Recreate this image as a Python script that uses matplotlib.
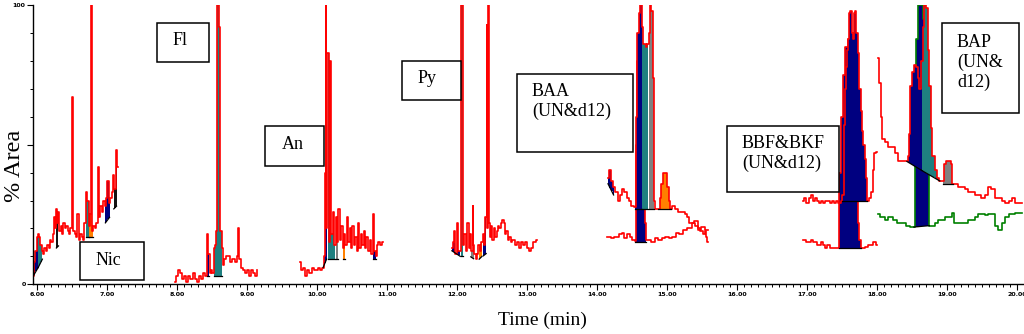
import numpy as np
import matplotlib
matplotlib.use("Agg")
import matplotlib.pyplot as plt
from matplotlib.patches import Rectangle
from matplotlib.ticker import MultipleLocator, FixedLocator, FixedFormatter

# traces: (time in min, % area)
nic = [(5.94, 3), (5.96, 8), (5.98, 12), (6.00, 17), (6.01, 18), (6.03, 17), (6.05, 14), (6.07, 12),
       (6.09, 11), (6.11, 13), (6.13, 12), (6.15, 14), (6.17, 13), (6.19, 16), (6.21, 15), (6.23, 18),
       (6.25, 24), (6.26, 20), (6.27, 27), (6.29, 22), (6.30, 26), (6.32, 19), (6.34, 21), (6.36, 18),
       (6.38, 22), (6.40, 20), (6.42, 21), (6.44, 19), (6.46, 18), (6.48, 20), (6.50, 67), (6.52, 19),
       (6.54, 18), (6.56, 17), (6.58, 25), (6.60, 16), (6.62, 18), (6.64, 17), (6.66, 16), (6.68, 22),
       (6.70, 33), (6.72, 30), (6.74, 21), (6.76, 25), (6.77, 100), (6.79, 19), (6.81, 21), (6.83, 20),
       (6.85, 22), (6.87, 42), (6.89, 24), (6.91, 28), (6.93, 26), (6.95, 30), (6.97, 28), (6.99, 31),
       (7.01, 37), (7.03, 29), (7.05, 31), (7.07, 33), (7.09, 39), (7.11, 34), (7.13, 48), (7.15, 42)]

fl = [(7.96, 1), (7.99, 3), (8.02, 5), (8.05, 4), (8.08, 2), (8.11, 3), (8.14, 1), (8.17, 3),
      (8.20, 2), (8.23, 4), (8.26, 2), (8.29, 1), (8.32, 3), (8.35, 2), (8.38, 4), (8.41, 3),
      (8.42, 11), (8.43, 18), (8.45, 11), (8.47, 4), (8.49, 5), (8.51, 4), (8.52, 13), (8.54, 14),
      (8.56, 19), (8.58, 100), (8.60, 92), (8.62, 19), (8.64, 13), (8.65, 7), (8.68, 9), (8.71, 10),
      (8.74, 10), (8.77, 8), (8.80, 9), (8.83, 8), (8.86, 10), (8.87, 20), (8.89, 9), (8.92, 6),
      (8.95, 5), (8.98, 4), (9.01, 5), (9.04, 3), (9.07, 5), (9.10, 4), (9.12, 3), (9.14, 5)]

an = [(9.75, 8), (9.78, 5), (9.81, 6), (9.84, 3), (9.87, 5), (9.90, 4), (9.93, 6), (9.96, 5),
      (9.99, 5), (10.02, 6), (10.05, 5), (10.08, 6), (10.10, 10), (10.11, 40), (10.12, 100),
      (10.13, 20), (10.15, 83), (10.17, 15), (10.19, 80), (10.21, 18), (10.23, 26), (10.25, 14),
      (10.27, 24), (10.29, 15), (10.31, 27), (10.33, 16), (10.35, 21), (10.37, 13), (10.39, 18),
      (10.41, 14), (10.43, 24), (10.45, 15), (10.47, 20), (10.49, 13), (10.51, 21), (10.53, 14),
      (10.55, 17), (10.57, 12), (10.59, 22), (10.61, 13), (10.63, 18), (10.65, 14), (10.67, 19),
      (10.69, 13), (10.71, 17), (10.73, 12), (10.76, 16), (10.78, 11), (10.80, 25), (10.82, 12),
      (10.84, 10), (10.86, 14), (10.88, 15), (10.91, 14), (10.94, 15)]

py = [(11.92, 13), (11.94, 15), (11.96, 19), (11.98, 11), (12.00, 22), (12.02, 12), (12.04, 12),
      (12.05, 100), (12.06, 100), (12.07, 100), (12.08, 15), (12.09, 14), (12.11, 18), (12.13, 12),
      (12.15, 22), (12.17, 13), (12.19, 18), (12.21, 12), (12.22, 28), (12.23, 14), (12.25, 11),
      (12.27, 9), (12.29, 11), (12.31, 14), (12.33, 12), (12.35, 15), (12.37, 18), (12.39, 14),
      (12.41, 24), (12.42, 93), (12.43, 20), (12.44, 100), (12.45, 22), (12.47, 17), (12.49, 21),
      (12.51, 16), (12.53, 20), (12.55, 17), (12.57, 19), (12.59, 21), (12.61, 20), (12.63, 22),
      (12.65, 23), (12.67, 22), (12.69, 18), (12.71, 19), (12.73, 16), (12.75, 17), (12.77, 15),
      (12.80, 16), (12.83, 14), (12.86, 15), (12.89, 13), (12.92, 15), (12.95, 14), (12.98, 15),
      (13.01, 13), (13.04, 12), (13.07, 13), (13.10, 15), (13.13, 16)]

baa_upper = [(14.15, 38), (14.18, 41), (14.20, 37), (14.23, 35), (14.27, 33), (14.31, 30), (14.34, 32),
             (14.37, 34), (14.40, 33), (14.43, 31), (14.46, 30), (14.50, 28), (14.54, 27.7), (14.56, 60),
             (14.58, 90), (14.60, 97), (14.62, 100), (14.64, 92), (14.66, 86), (14.68, 86), (14.70, 85),
             (14.72, 86), (14.74, 90), (14.76, 100), (14.78, 98), (14.80, 74), (14.81, 30), (14.83, 27),
             (14.86, 27), (14.88, 27), (14.90, 31), (14.92, 36), (14.95, 40), (14.98, 40), (15.00, 35),
             (15.03, 30), (15.05, 27), (15.09, 28), (15.13, 27), (15.18, 26), (15.23, 26), (15.27, 25),
             (15.29, 24), (15.33, 22), (15.37, 22), (15.41, 21), (15.45, 20), (15.49, 19), (15.53, 18),
             (15.55, 19), (15.56, 17), (15.58, 15)]

baa_lower = [(14.13, 17), (14.17, 17), (14.21, 16.5), (14.25, 17), (14.29, 17), (14.33, 18), (14.37, 18.4),
             (14.40, 16.5), (14.44, 18), (14.48, 17), (14.52, 16), (14.54, 15.5), (14.56, 50), (14.58, 80),
             (14.61, 90), (14.64, 70), (14.67, 40), (14.69, 22), (14.70, 16), (14.74, 16), (14.79, 15),
             (14.84, 16.5), (14.89, 16), (14.94, 16.5), (14.99, 17), (15.04, 16.5), (15.10, 17),
             (15.14, 18.4), (15.20, 18), (15.25, 19.6), (15.32, 20), (15.37, 22), (15.40, 22.5),
             (15.46, 19.6), (15.51, 20.5), (15.55, 19.5), (15.58, 19.4)]

bbf_upper = [(16.94, 30), (16.97, 31), (17.00, 29), (17.03, 31), (17.06, 32), (17.09, 30), (17.12, 31),
             (17.15, 30), (17.18, 29), (17.21, 30), (17.24, 29), (17.27, 30), (17.30, 30), (17.33, 29),
             (17.36, 30), (17.39, 29), (17.42, 30), (17.46, 29), (17.49, 30), (17.51, 32), (17.52, 57),
             (17.54, 70), (17.55, 78), (17.57, 84), (17.58, 88), (17.60, 97), (17.62, 98), (17.64, 90),
             (17.65, 88), (17.67, 97), (17.69, 98), (17.71, 90), (17.73, 83), (17.75, 70), (17.77, 62),
             (17.79, 55), (17.81, 50), (17.82, 45), (17.84, 38), (17.85, 30), (17.87, 30), (17.89, 31),
             (17.92, 33), (17.94, 41), (17.96, 47), (17.99, 47.5)]

bbf_lower = [(16.94, 16), (16.97, 16), (17.00, 15), (17.03, 15), (17.06, 16), (17.09, 15), (17.12, 15),
             (17.15, 14), (17.18, 14), (17.21, 15), (17.24, 14), (17.27, 13), (17.30, 14), (17.33, 13),
             (17.36, 13), (17.39, 13), (17.42, 13), (17.45, 13), (17.46, 40), (17.49, 60), (17.52, 75),
             (17.56, 85), (17.60, 88), (17.64, 80), (17.68, 60), (17.71, 35), (17.73, 22), (17.75, 16),
             (17.77, 13), (17.80, 13), (17.84, 13.5), (17.88, 14), (17.92, 14), (17.96, 15), (17.99, 14)]

bap_red = [(18.01, 81), (18.04, 72), (18.06, 60), (18.08, 52), (18.13, 51), (18.18, 49), (18.23, 49),
           (18.27, 47), (18.32, 44), (18.37, 44), (18.42, 44), (18.44, 46), (18.46, 54), (18.48, 71),
           (18.50, 76), (18.53, 78.5), (18.56, 78), (18.59, 74), (18.61, 70), (18.63, 80), (18.66, 92),
           (18.68, 100), (18.71, 99), (18.73, 84), (18.75, 71), (18.77, 56), (18.80, 46), (18.83, 41),
           (18.86, 38), (18.89, 37), (18.93, 37), (18.96, 43), (18.99, 44), (19.04, 44), (19.06, 43),
           (19.08, 36), (19.11, 36), (19.18, 35), (19.22, 35), (19.27, 34), (19.32, 33), (19.37, 33),
           (19.42, 32), (19.46, 32), (19.51, 31), (19.56, 32), (19.60, 35), (19.65, 34), (19.70, 31),
           (19.75, 31), (19.80, 30), (19.85, 29), (19.90, 30), (19.94, 31), (20.00, 29), (20.06, 29)]

bap_green = [(18.01, 25), (18.05, 24), (18.08, 24), (18.13, 23), (18.16, 24), (18.20, 24), (18.25, 23),
             (18.30, 22), (18.37, 22), (18.44, 21), (18.49, 20.5), (18.52, 20.5), (18.54, 60), (18.57, 88),
             (18.60, 100), (18.63, 100), (18.66, 95), (18.69, 80), (18.72, 60), (18.74, 21), (18.80, 21),
             (18.84, 22), (18.89, 23), (18.94, 23), (18.99, 24), (19.04, 24), (19.08, 25.5), (19.11, 22),
             (19.18, 22), (19.22, 22), (19.27, 22), (19.32, 23), (19.37, 23), (19.42, 24), (19.46, 25),
             (19.51, 25), (19.56, 24.7), (19.60, 25), (19.65, 25), (19.70, 21), (19.75, 19.6),
             (19.80, 22), (19.85, 24), (19.90, 25), (19.94, 25), (20.00, 25.5), (20.06, 25.6)]

# integrated peaks: (t start, t end, baseline start, baseline end, kind)
# kind: 0 navy, 1 teal, 2 orange, 3 grey, 4 black
nic_peaks = [(5.94, 6.01, 3, 6, 0), (6.01, 6.07, 6, 9, 1), (6.27, 6.31, 13, 14, 4),
             (6.70, 6.74, 17, 17, 1), (6.74, 6.79, 17, 17, 2), (6.97, 7.03, 22, 24, 0),
             (7.09, 7.13, 27, 28, 4)]
fl_peaks = [(8.42, 8.46, 3, 3, 0), (8.52, 8.64, 3, 3, 1)]
an_peaks = [(10.08, 10.13, 6, 9, 0), (10.14, 10.26, 9, 9, 1), (10.26, 10.30, 9, 9, 3),
            (10.36, 10.40, 9, 9, 2), (10.79, 10.85, 9, 9, 0)]
py_peaks = [(11.92, 12.04, 12, 10, 0), (12.05, 12.08, 10, 10, 1), (12.18, 12.24, 10, 9, 3),
            (12.31, 12.35, 9, 10, 2), (12.36, 12.41, 10, 11, 0)]
baa_upper_peaks = [(14.15, 14.23, 36, 32, 0), (14.54, 14.64, 27, 27, 0), (14.64, 14.73, 27, 27, 1),
                   (14.73, 14.81, 27, 27, 3), (14.86, 15.05, 27, 27, 2)]
baa_lower_peaks = [(14.54, 14.70, 15, 15, 0)]
bbf_upper_peaks = [(17.49, 17.85, 30, 30, 0)]
bbf_lower_peaks = [(17.45, 17.77, 13, 13, 0)]
bap_red_peaks = [(18.42, 18.63, 44, 40.8, 0), (18.63, 18.89, 40.8, 37, 1), (18.93, 19.08, 36, 36, 3)]
bap_green_peaks = [(18.52, 18.74, 20.5, 21, 0)]

labels = ["Nic", "Fl", "An", "Py", "BAA\n(UN&d12)", "BBF&BKF\n(UN&d12)", "BAP\n(UN&\nd12)"]

FILL = ['#000080', '#1f8080', '#ff8000', '#808080', '#141414']
SERIF = 'Liberation Serif'


def draw_trace(ax, pts, peaks, color, z):
    t = np.array([p[0] for p in pts])
    y = np.array([p[1] for p in pts])
    for t0, t1, b0, b1, kind in peaks:
        m = (t >= t0 - 1e-9) & (t <= t1 + 1e-9)
        tt = t[m]
        base = b0 + (b1 - b0) * (tt - t0) / (t1 - t0)
        ax.fill_between(tt, base, np.maximum(y[m], base), step='mid',
                        color=FILL[kind], lw=0, zorder=z)
        ax.plot(tt, base, color='black', lw=0.9, zorder=z + 0.2)
    ax.plot(t, y, color=color, lw=1.2, drawstyle='steps-mid', zorder=z + 0.1)


fig = plt.figure(figsize=(10.24, 3.34), dpi=100)
ax = fig.add_axes([0.0325, 0.1488, 0.9675, 0.836])

traces = [(nic, nic_peaks), (fl, fl_peaks), (an, an_peaks), (py, py_peaks),
          (baa_lower, baa_lower_peaks), (baa_upper, baa_upper_peaks),
          (bbf_lower, bbf_lower_peaks), (bbf_upper, bbf_upper_peaks)]
for i, (pts, pk) in enumerate(traces):
    draw_trace(ax, pts, pk, '#ff0000', 1 + i)
draw_trace(ax, bap_green, bap_green_peaks, '#008000', 10)
draw_trace(ax, bap_red, bap_red_peaks, '#ff0000', 11)

ax.set_xlim(5.94, 20.093)
ax.set_ylim(0, 100)

# label boxes (x0, y0, x1, y1 in data units) and text anchors
boxes = [(6.607, 1.4, 7.521, 15.05), (7.707, 79.6, 8.45, 93.5), (9.25, 42.3, 10.093, 56.6),
         (11.207, 65.9, 12.05, 79.9), (12.85, 47.4, 14.51, 75.3), (15.85, 33.0, 17.45, 56.6),
         (18.917, 61.4, 20.026, 93.7)]
anchors = [(7.01, 8.6, 'center'), (8.036, 87.4, 'center'), (9.643, 50.2, 'center'),
           (11.56, 73.8, 'center'), (13.064, 65.6, 'left'), (16.064, 46.8, 'left'),
           (19.136, 79.4, 'left')]
for (x0, y0, x1, y1), (tx, ty, ha), lab in zip(boxes, anchors, labels):
    ax.add_patch(Rectangle((x0, y0), x1 - x0, y1 - y0, facecolor='white',
                           edgecolor='black', lw=1.1, zorder=20))
    ax.text(tx, ty, lab, ha=ha, va='center', multialignment='left', family=SERIF,
            fontsize=13, linespacing=1.2, zorder=21)

for s in ['top', 'right']:
    ax.spines[s].set_visible(False)
for s in ['left', 'bottom']:
    ax.spines[s].set_linewidth(1.0)

ax.xaxis.set_major_locator(FixedLocator(list(range(6, 21))))
ax.xaxis.set_minor_locator(MultipleLocator(0.1))
ax.set_xticklabels(['%.2f' % v for v in range(6, 21)], fontsize=4.5, fontweight='bold')
ax.tick_params(axis='x', which='major', length=4, width=0.8, pad=1.5)
ax.tick_params(axis='x', which='minor', length=2.5, width=0.7)

ax.yaxis.set_major_locator(FixedLocator([0, 50, 100]))
ax.yaxis.set_major_formatter(FixedFormatter(['0', '', '100']))
ax.yaxis.set_minor_locator(MultipleLocator(10))
ax.tick_params(axis='y', which='major', length=4, width=0.8, pad=1.5, labelsize=4.5)
ax.tick_params(axis='y', which='minor', length=2.5, width=0.7)
for lab in ax.get_yticklabels():
    lab.set_fontweight('bold')

ax.set_xlabel('Time (min)', family=SERIF, fontsize=14)
ax.xaxis.set_label_coords(0.514, -0.098)
ax.set_ylabel('% Area', family=SERIF, fontsize=17.5)
ax.yaxis.set_label_coords(-0.0084, 0.4236)

fig.savefig('out.png', dpi=100)
